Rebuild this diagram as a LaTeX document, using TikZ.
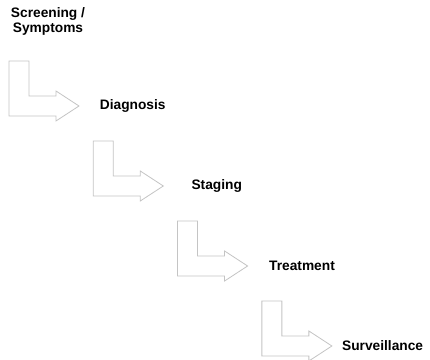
\documentclass[tikz,border=0pt]{standalone}
\usepackage{fontspec}
\setmainfont{Liberation Sans}
\usetikzlibrary{positioning}
\definecolor{Edge}{HTML}{C4C4C4}
\begin{document}
\begin{tikzpicture}[x=0.75pt,y=-0.75pt,
    lbl/.style={anchor=west,inner sep=0pt,font=\fontsize{10.3}{11.8}\selectfont\bfseries},
    stepshape/.style={draw=Edge,line width=0.6pt,fill=white,line join=miter}]
    \useasboundingbox (0,0) rectangle (430,360);
    % bent step arrows
    \foreach \i in {0,...,3}{
      \begin{scope}[shift={(9+84.3*\i,61+80*\i)}]
        \draw[stepshape] (0,0) -- (20,0) -- (20,35) -- (47,35) -- (47,30) -- (70,45)
          -- (47,60) -- (47,55) -- (0,55) -- cycle;
        \coordinate (t\i) at (70,45);
      \end{scope}}
    \node[lbl,anchor=center,align=center] (scr) at (48,21.5) {Screening /\\Symptoms};
    \node[lbl,right=15.5pt of t0] (dia) {Diagnosis};
    \node[lbl,right=21pt of t1] (sta) {Staging};
    \node[lbl,right=16pt of t2] (tre) {Treatment};
    \node[lbl,right=7.5pt of t3] (sur) {Surveillance};
\end{tikzpicture}
\end{document}
